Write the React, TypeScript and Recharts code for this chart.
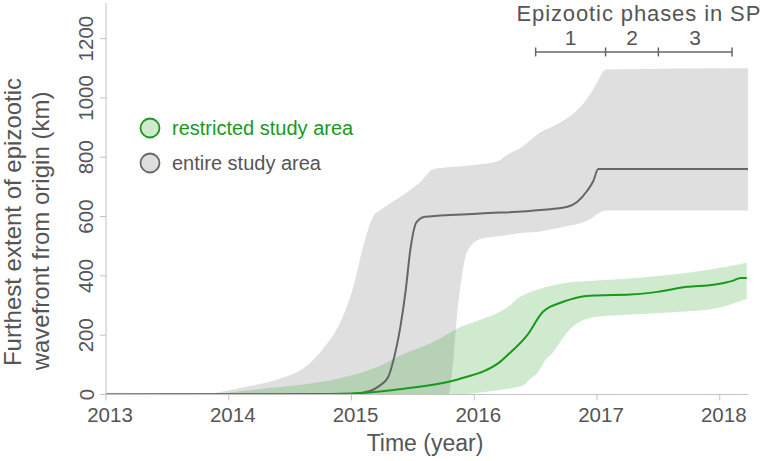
import React from 'react';
import { ComposedChart, Area, Line, XAxis, YAxis, ReferenceLine, ReferenceDot } from 'recharts';

const xTicks = [2013, 2014, 2015, 2016, 2017, 2018];
const yTicks = [0, 200, 400, 600, 800, 1000, 1200];

// [year, low, high]
const entireBand: [number, number, number][] = [
  [2013.0, 0, 0], [2013.8, 0, 0], [2013.95, 0, 10], [2014.15, 0, 27], [2014.42, 0, 54],
  [2014.64, 0, 98], [2014.77, 0, 155], [2014.91, 0, 245], [2015.01, 0, 356], [2015.09, 0, 491],
  [2015.18, 0, 603], [2015.23, 0, 620], [2015.37, 0, 659], [2015.56, 0, 716], [2015.67, 0, 760],
  [2015.79, 0, 766], [2015.83, 121, 768], [2015.86, 267, 769], [2015.9, 401, 770], [2015.94, 480, 771],
  [2016.05, 524, 776], [2016.21, 534, 790], [2016.24, 536, 800], [2016.4, 545, 838], [2016.54, 550, 884],
  [2016.62, 556, 900], [2016.72, 565, 922], [2016.86, 577, 968], [2016.94, 590, 1010], [2017.0, 608, 1052],
  [2017.07, 620, 1096], [2018.23, 620, 1100],
];

const restrictedBand: [number, number, number][] = [
  [2013.0, 0, 0], [2013.85, 0, 0], [2014.15, 0, 14], [2014.55, 0, 31], [2014.9, 0, 54],
  [2015.22, 0, 94], [2015.4, 0, 132], [2015.67, 0, 178], [2015.86, 0, 222], [2016.07, 8, 255],
  [2016.21, 15, 279], [2016.29, 20, 300], [2016.35, 25, 323], [2016.4, 31, 335], [2016.46, 55, 346],
  [2016.51, 70, 352], [2016.59, 121, 363], [2016.62, 132, 366], [2016.76, 211, 378], [2016.86, 245, 381],
  [2017.0, 262, 384], [2017.41, 272, 396], [2017.68, 279, 407], [2017.95, 289, 423], [2018.22, 323, 444],
];

// [year, value]
const entireMedian: [number, number][] = [
  [2013.0, 0], [2015.0, 2], [2015.15, 12], [2015.23, 30], [2015.3, 60], [2015.34, 113],
  [2015.4, 233], [2015.44, 346], [2015.48, 490], [2015.53, 581], [2015.6, 599], [2016.05, 610],
  [2016.54, 622], [2016.76, 633], [2016.84, 650], [2016.92, 687], [2016.97, 720], [2017.01, 760],
  [2018.23, 760],
];

const restrictedMedian: [number, number][] = [
  [2013.0, 0], [2014.5, 0], [2015.0, 3], [2015.4, 18], [2015.72, 37], [2015.8, 44], [2015.94, 60],
  [2016.07, 77], [2016.21, 110], [2016.27, 132], [2016.43, 199], [2016.56, 279], [2016.62, 296],
  [2016.68, 306], [2016.86, 329], [2017.0, 334], [2017.27, 337], [2017.49, 346], [2017.73, 363],
  [2017.95, 370], [2018.11, 384], [2018.17, 393], [2018.22, 393],
];

const phaseBounds = [2016.5, 2017.07, 2017.5, 2018.1];
const phaseLabels = ['1', '2', '3'];
const phaseTitle = 'Epizootic phases in SP';
const phaseLevel = 1155;
const seriesNames = ['restricted study area', 'entire study area'];

const FONT = '"Liberation Sans", Arial, Helvetica, sans-serif';
const GREEN = '#17991b';
const GRAY_LINE = '#666666';
const TEXT = '#555555';

const XTick = (props: any) => {
  const { x, y, payload } = props;
  return (
    <text x={x + 4} y={y + 19.5} textAnchor="middle" fontFamily={FONT} fontSize={20.5} fill={TEXT}>
      {payload.value}
    </text>
  );
};

const YTick = (props: any) => {
  const { x, y, payload } = props;
  const bx = x - 4.5;
  return (
    <text x={bx} y={y} transform={`rotate(-90, ${bx}, ${y})`} textAnchor="middle" fontFamily={FONT} fontSize={20.5} fill={TEXT}>
      {payload.value}
    </text>
  );
};

export default function App() {
  const eb = entireBand.map(([x, l, h]) => ({ x, range: [l, h] }));
  const rb = restrictedBand.map(([x, l, h]) => ({ x, range: [l, h] }));
  const em = entireMedian.map(([x, v]) => ({ x, v }));
  const rm = restrictedMedian.map(([x, v]) => ({ x, v }));
  const mid = (phaseBounds[0] + phaseBounds[phaseBounds.length - 1]) / 2;

  return (
    <div style={{ position: 'absolute', left: 0, top: 0, width: 769, height: 461, background: '#fff' }}>
      <ComposedChart width={769} height={461} margin={{ top: 3, right: 21, bottom: 0, left: 0 }}>
        <XAxis
          dataKey="x"
          type="number"
          domain={[2013, 2018.23]}
          ticks={xTicks}
          allowDataOverflow
          height={66.5}
          stroke="#c2c2c2"
          tickSize={6}
          tick={<XTick />}
          allowDuplicatedCategory={false}
        />
        <YAxis
          type="number"
          domain={[0, 1320]}
          ticks={yTicks}
          allowDataOverflow
          width={106}
          stroke="#c2c2c2"
          tickSize={6}
          tick={<YTick />}
        />
        <Area data={eb} dataKey="range" type="monotoneX" fill="#dfdfdf" fillOpacity={1} stroke="none" isAnimationActive={false} />
        <Area data={rb} dataKey="range" type="monotoneX" fill="#3aa83a" fillOpacity={0.24} stroke="none" isAnimationActive={false} />
        <Line data={em} dataKey="v" type="monotoneX" stroke={GRAY_LINE} strokeWidth={2} dot={false} isAnimationActive={false} />
        <Line data={rm} dataKey="v" type="monotoneX" stroke={GREEN} strokeWidth={2} dot={false} isAnimationActive={false} />
        <ReferenceLine
          segment={[{ x: phaseBounds[0], y: phaseLevel }, { x: phaseBounds[phaseBounds.length - 1], y: phaseLevel }]}
          stroke={GRAY_LINE}
          strokeWidth={1.5}
          ifOverflow="visible"
        />
        {phaseBounds.map((b, i) => (
          <ReferenceLine
            key={'pb' + i}
            segment={[{ x: b, y: phaseLevel - 15 }, { x: b, y: phaseLevel + 15 }]}
            stroke={GRAY_LINE}
            strokeWidth={1.5}
            ifOverflow="visible"
          />
        ))}
        {phaseLabels.map((lab, i) => (
          <ReferenceDot
            key={'pl' + i}
            x={(phaseBounds[i] + phaseBounds[i + 1]) / 2}
            y={phaseLevel}
            r={0}
            ifOverflow="visible"
            shape={(p: any) => (
              <text x={p.cx} y={p.cy - 7} textAnchor="middle" fontFamily={FONT} fontSize={21} fill={TEXT}>{lab}</text>
            )}
          />
        ))}
        <ReferenceDot
          x={mid}
          y={phaseLevel}
          r={0}
          ifOverflow="visible"
          shape={(p: any) => (
            <text x={p.cx + 5} y={p.cy - 31} textAnchor="middle" fontFamily={FONT} fontSize={22} letterSpacing={0.9} fill={TEXT}>{phaseTitle}</text>
          )}
        />
        <g>
          <circle cx={150} cy={128} r={9.5} fill="#cfeacd" stroke={GREEN} strokeWidth={1.8} />
          <text x={172} y={135} fontFamily={FONT} fontSize={20} fill={GREEN}>{seriesNames[0]}</text>
          <circle cx={150} cy={163} r={9.5} fill="#dedede" stroke={GRAY_LINE} strokeWidth={1.8} />
          <text x={172} y={170} fontFamily={FONT} fontSize={20} fill={TEXT}>{seriesNames[1]}</text>
        </g>
        <text x={425} y={451} textAnchor="middle" fontFamily={FONT} fontSize={23} fill={TEXT}>Time (year)</text>
        <text x={21} y={222} transform="rotate(-90, 21, 222)" textAnchor="middle" fontFamily={FONT} fontSize={24} fill={TEXT}>Furthest extent of epizootic</text>
        <text x={49} y={231} transform="rotate(-90, 49, 231)" textAnchor="middle" fontFamily={FONT} fontSize={24} fill={TEXT}>wavefront from origin (km)</text>
      </ComposedChart>
    </div>
  );
}
